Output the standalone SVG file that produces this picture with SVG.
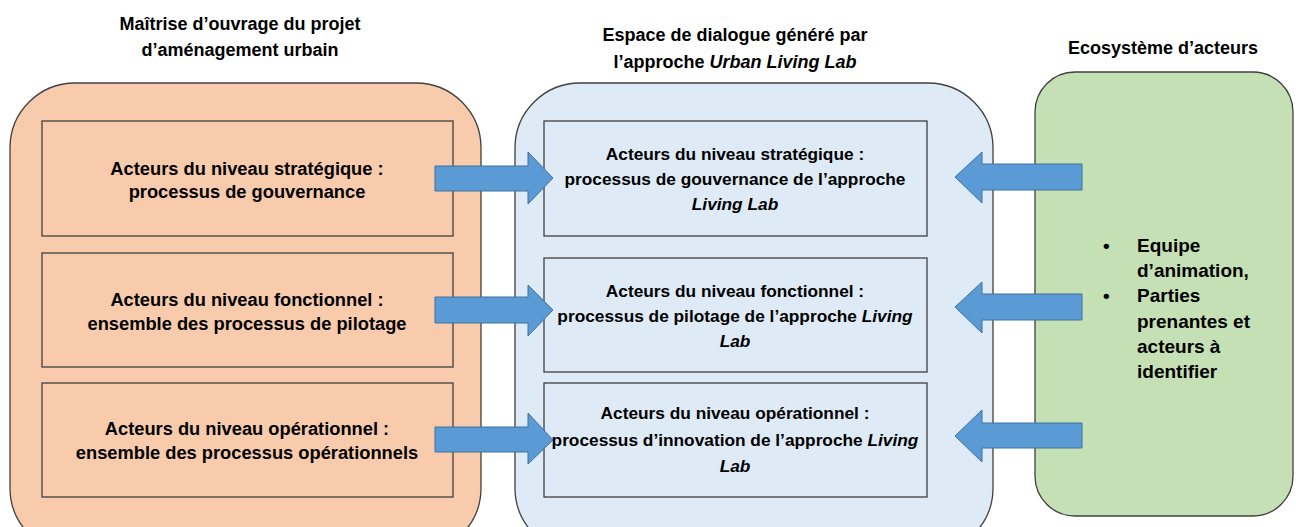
<svg xmlns="http://www.w3.org/2000/svg" width="1296" height="527" viewBox="0 0 1296 527">
<style>
text{font-family:"Liberation Sans",Arial,sans-serif;font-weight:bold;font-size:18px;fill:#000;text-anchor:middle}
.l{font-size:18.3px}
.m{font-size:17.3px}
.r{font-size:19px;text-anchor:start}
.it{font-style:italic}
.box{stroke:#404040;stroke-width:1.3}
.orange{fill:#F8CBAD}
.blue{fill:#DEEBF7}
.green{fill:#C5E0B4}
.arrow{fill:#5B9BD5;stroke:#41719C;stroke-width:1}
</style>
<rect width="1296" height="527" fill="#fff"/>
<g id="titles">
<text x="240" y="30">Maîtrise d’ouvrage du projet</text>
<text x="240" y="56">d’aménagement urbain</text>
<text x="735" y="41">Espace de dialogue généré par</text>
<text x="735" y="68">l’approche <tspan class="it">Urban Living Lab</tspan></text>
<text x="1163" y="54">Ecosystème d’acteurs</text>
</g>
<g id="moa">
<rect class="box orange" x="10" y="83" width="471" height="470" rx="65" ry="65"/>
</g>
<g id="espace">
<rect class="box blue" x="515" y="83" width="478" height="470" rx="65" ry="65"/>
</g>
<g id="ecosysteme">
<rect class="box green" x="1035" y="72" width="258" height="444" rx="40" ry="40"/>
<text class="r" x="1103" y="252">•</text>
<text class="r" x="1137" y="252">Equipe</text>
<text class="r" x="1137" y="277">d’animation,</text>
<text class="r" x="1103" y="302">•</text>
<text class="r" x="1137" y="302">Parties</text>
<text class="r" x="1137" y="328">prenantes et</text>
<text class="r" x="1137" y="353">acteurs à</text>
<text class="r" x="1137" y="378">identifier</text>
</g>
<g id="moa-strategique">
<rect class="box orange" x="42" y="121" width="411" height="115"/>
<text class="l" x="247" y="175">Acteurs du niveau stratégique :</text>
<text class="l" x="247" y="198">processus de gouvernance</text>
</g>
<g id="moa-fonctionnel">
<rect class="box orange" x="42" y="253" width="411" height="114"/>
<text class="l" x="247" y="306">Acteurs du niveau fonctionnel :</text>
<text class="l" x="247" y="330">ensemble des processus de pilotage</text>
</g>
<g id="moa-operationnel">
<rect class="box orange" x="42" y="383" width="411" height="114"/>
<text class="l" x="247" y="435">Acteurs du niveau opérationnel :</text>
<text class="l" x="247" y="459">ensemble des processus opérationnels</text>
</g>
<g id="ull-strategique">
<rect class="box blue" x="544" y="121" width="383" height="115"/>
<text class="m" x="735" y="160">Acteurs du niveau stratégique :</text>
<text class="m" x="735" y="185">processus de gouvernance de l’approche</text>
<text class="m it" x="735" y="210">Living Lab</text>
</g>
<g id="ull-fonctionnel">
<rect class="box blue" x="544" y="258" width="383" height="114"/>
<text class="m" x="735" y="297">Acteurs du niveau fonctionnel :</text>
<text class="m" x="735" y="322">processus de pilotage de l’approche <tspan class="it">Living</tspan></text>
<text class="m it" x="735" y="347">Lab</text>
</g>
<g id="ull-operationnel">
<rect class="box blue" x="544" y="383" width="383" height="114"/>
<text class="m" x="735" y="419">Acteurs du niveau opérationnel :</text>
<text class="m" x="735" y="446">processus d’innovation de l’approche <tspan class="it">Living</tspan></text>
<text class="m it" x="735" y="472">Lab</text>
</g>
<g id="connectors">
<polygon class="arrow" points="435,166 528,166 528,152 553,178 528,204 528,191 435,191"/>
<polygon class="arrow" points="435,297 528,297 528,285 553,310 528,336 528,323 435,323"/>
<polygon class="arrow" points="435,427 528,427 528,413 553,440 528,464 528,452 435,452"/>
<polygon class="arrow" points="1082,164 982,164 982,152 955,177 982,203 982,190 1082,190"/>
<polygon class="arrow" points="1082,294 982,294 982,282 955,307 982,333 982,320 1082,320"/>
<polygon class="arrow" points="1082,423 982,423 982,410 955,436 982,462 982,448 1082,448"/>
</g>
</svg>
